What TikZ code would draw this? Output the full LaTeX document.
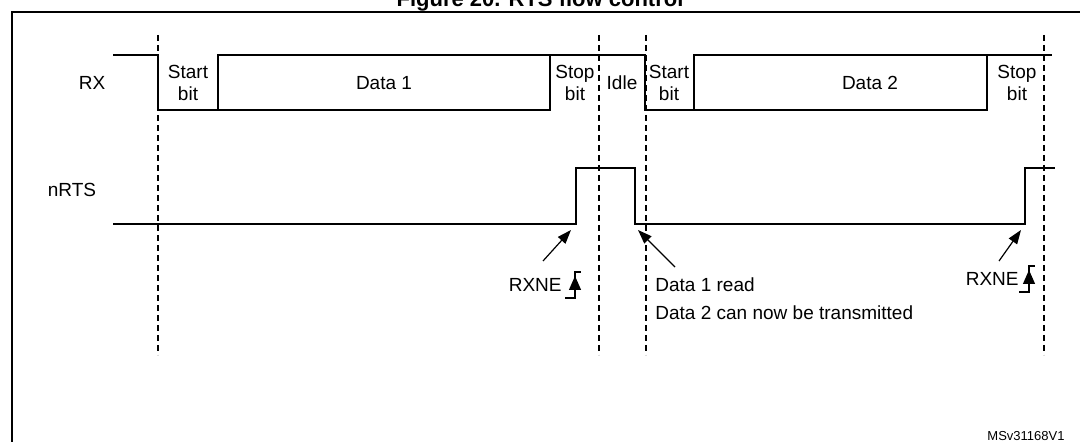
\documentclass[tikz,border=0pt]{standalone}
\usepackage{fontspec}
\setmainfont{Liberation Sans}
\usetikzlibrary{arrows.meta,calc}

\tikzset{
  signal/.style={thick,line join=miter},
  bound/.style={densely dashed,semithick},
  lbl/.style={font=\fontsize{9.5}{11}\selectfont,align=center,inner sep=0pt},
  note/.style={-{Triangle[length=7pt,width=5pt]},semithick},
}

% rising edge mark with up arrow
\newcommand{\edgemark}[1]{%
  \draw[semithick] ($(#1)+(-10,13)$) -- ($(#1)+(0,13)$) -- ($(#1)+(0,-13)$) -- ($(#1)+(6,-13)$);
  \draw[-{Triangle[length=7pt,width=6pt]},semithick] ($(#1)+(0,8)$) -- ($(#1)+(0,-9)$);
}

\begin{document}
\begin{tikzpicture}[x=0.5pt,y=-0.5pt]
  \useasboundingbox (0,0) rectangle (1080,442);
  \clip (0,0) rectangle (1080,442);

  % frame and title
  \draw[thick] (12,442) -- (12,12) -- (1080,12);
  \node[font=\bfseries\fontsize{11}{13}\selectfont] (title) at (540,1) {Figure 20. RTS flow control};

  % bit boundaries
  \foreach \x in {158,599,646,1044}
    \draw[bound] (\x,35) -- (\x,355);

  % RX line
  \node[lbl] (rx) at (92,83) {RX};
  \draw[signal] (113,55) -- (158,55) -- (158,110) -- (550,110) -- (550,55);
  \draw[signal] (218,110) -- (218,55) -- (645,55) -- (645,110) -- (987,110) -- (987,55);
  \draw[signal] (694,110) -- (694,55) -- (1052,55);

  \node[lbl] (start1) at (188,83) {Start\\bit};
  \node[lbl] (data1)  at (384,83) {Data 1};
  \node[lbl] (stop1)  at (575,83) {Stop\\bit};
  \node[lbl] (idle)   at (622,83) {Idle};
  \node[lbl] (start2) at (669,83) {Start\\bit};
  \node[lbl] (data2)  at (870,83) {Data 2};
  \node[lbl] (stop2)  at (1017,83) {Stop\\bit};

  % nRTS line
  \node[lbl] (nrts) at (72,190) {nRTS};
  \draw[signal] (113,224) -- (576,224) -- (576,168) -- (635,168) -- (635,224)
    -- (1025,224) -- (1025,168) -- (1055,168);

  \coordinate (rise1) at (571,230);
  \coordinate (fall1) at (638,230);
  \coordinate (rise2) at (1021,230);

  % notes
  \node[lbl,anchor=east] (rxne1) at (562,285) {RXNE};
  \coordinate (mark1) at (575,285);
  \edgemark{mark1}
  \draw[note] (543,261) -- (rise1);

  \node[lbl,anchor=north west,align=left] (read) at (655,277) {Data 1 read\\[3pt]Data 2 can now be transmitted};
  \draw[note] (675,267) -- (fall1);

  \node[lbl,anchor=east] (rxne2) at (1019,279) {RXNE};
  \coordinate (mark2) at (1029,279);
  \edgemark{mark2}
  \draw[note] (999,261) -- (rise2);

  \node[lbl,font=\fontsize{6.5}{8}\selectfont] (ref) at (1026,436) {MSv31168V1};
\end{tikzpicture}
\end{document}
